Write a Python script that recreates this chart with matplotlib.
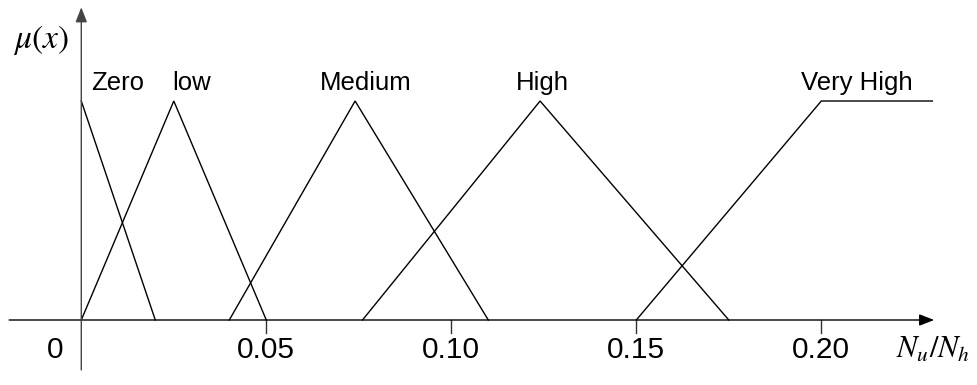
import matplotlib
matplotlib.use("Agg")
import matplotlib.pyplot as plt

plt.rcParams['font.family'] = ['Liberation Sans', 'DejaVu Sans']
plt.rcParams['mathtext.fontset'] = 'stix'

# Membership functions of the fuzzy sets over N_u/N_h
set_names = ["Zero", "low", "Medium", "High", "Very High"]
zero_x, zero_mu = [0.0, 0.02], [1.0, 0.0]
low_x, low_mu = [0.0, 0.025, 0.05], [0.0, 1.0, 0.0]
medium_x, medium_mu = [0.04, 0.074, 0.11], [0.0, 1.0, 0.0]
high_x, high_mu = [0.076, 0.124, 0.175], [0.0, 1.0, 0.0]
vhigh_x, vhigh_mu = [0.15, 0.20, 0.23], [0.0, 1.0, 1.0]

# Set-name anchor positions along x (label sits above each peak)
name_x = [0.0098, 0.0297, 0.0769, 0.1246, 0.2096]

tick_values = [0.05, 0.10, 0.15, 0.20]
tick_labels = ["0.05", "0.10", "0.15", "0.20"]

fig = plt.figure(figsize=(9.78, 3.85), dpi=100)
ax = fig.add_axes([0, 0, 1, 1])
ax.set_xlim(-0.02197, 0.24235)
ax.set_ylim(-0.2968, 1.4612)
ax.axis("off")

lc = "black"
lw = 1.0

# Axes with arrowheads
ax.annotate("", xy=(0.2305, 0), xytext=(-0.0195, 0),
            arrowprops=dict(arrowstyle="-|>,head_length=0.9,head_width=0.35",
                            color=lc, lw=lw, shrinkA=0, shrinkB=0))
ax.annotate("", xy=(0, 1.428), xytext=(0, -0.228),
            arrowprops=dict(arrowstyle="-|>,head_length=0.9,head_width=0.35",
                            color="#444444", lw=lw, shrinkA=0, shrinkB=0))

# Membership curves
for xs, ys in [(zero_x, zero_mu), (low_x, low_mu), (medium_x, medium_mu),
               (high_x, high_mu), (vhigh_x, vhigh_mu)]:
    ax.plot(xs, ys, color=lc, lw=lw, solid_joinstyle="miter")

# Tick marks and labels
for v, lab in zip(tick_values, tick_labels):
    ax.plot([v, v], [0, -0.059], color="#333333", lw=lw)
    ax.text(v, -0.137, lab, ha="center", va="center", fontsize=21.5)
ax.text(-0.0071, -0.137, "0", ha="center", va="center", fontsize=21.5)

# Set names
for nx, name in zip(name_x, set_names):
    ax.text(nx, 1.082, name, ha="center", va="center", fontsize=18.5)

# Axis titles
ax.text(-0.0109, 1.279, r"$\mu(x)$", ha="center", va="center", fontsize=24)
ax.text(0.2302, -0.137, r"$N_u/N_h$", ha="center", va="center", fontsize=22)

fig.savefig("out.png", dpi=100)
